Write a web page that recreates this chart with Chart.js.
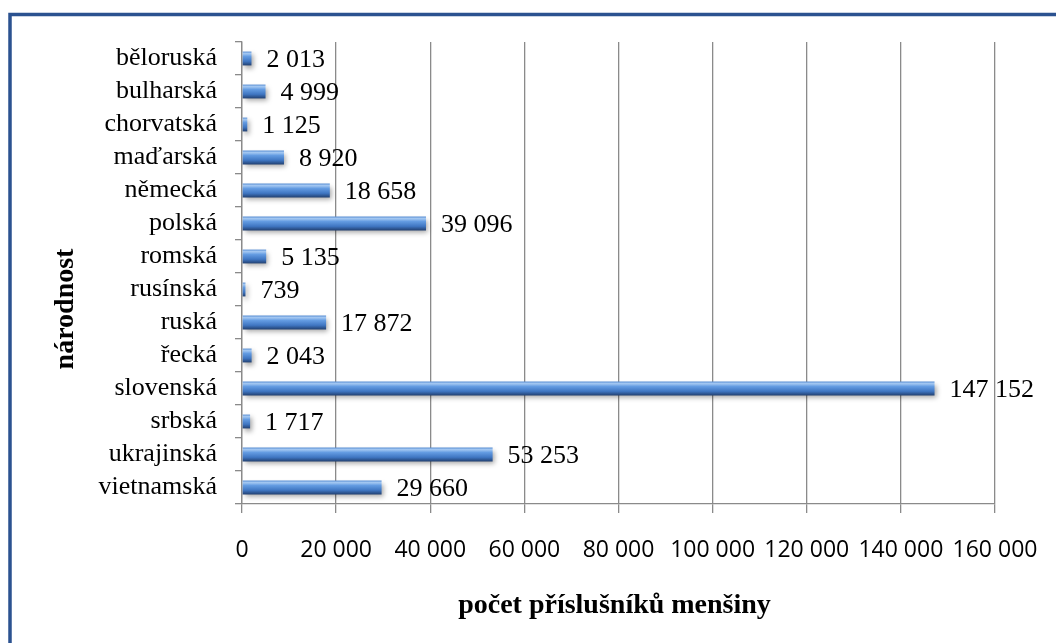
<!DOCTYPE html>
<html lang="cs">
<head>
    <meta charset="UTF-8">
    <title>Národnostní menšiny</title>
    <script src="https://cdn.jsdelivr.net/npm/chart.js@4.4.0/dist/chart.umd.min.js"></script>
    <style>
        body {
            margin: 0;
            background: #ffffff;
        }
        #wrap {
            position: relative;
            width: 1056px;
            height: 643px;
        }
    </style>
</head>
<body>
    <div id="wrap">
        <canvas id="chart" width="1056" height="643"></canvas>
    </div>

    <script>
        const categories = ['běloruská', 'bulharská', 'chorvatská', 'maďarská', 'německá', 'polská', 'romská',
            'rusínská', 'ruská', 'řecká', 'slovenská', 'srbská', 'ukrajinská', 'vietnamská'];
        const members = [2013, 4999, 1125, 8920, 18658, 39096, 5135, 739, 17872, 2043, 147152, 1717, 53253, 29660];
        const xTicks = [0, 20000, 40000, 60000, 80000, 100000, 120000, 140000, 160000];
        const xTitle = 'počet příslušníků menšiny';
        const yTitle = 'národnost';

        const GRID = '#8a8a8a';
        const SERIF = '"Liberation Serif", "Times New Roman", serif';

        function fmt(v) {
            return String(v).replace(/\B(?=(\d{3})+(?!\d))/g, ' ');
        }

        // gradient per bar, follows the bar centre given by the category scale
        function barFill(c) {
            const chart = c.chart;
            const y = chart.scales && chart.scales.y;
            if (!y || c.dataIndex === undefined) return '#4a84cc';
            const cy = y.getPixelForValue(c.dataIndex);
            if (!Number.isFinite(cy)) return '#4a84cc';
            const g = chart.ctx.createLinearGradient(0, cy - 7, 0, cy + 7);
            g.addColorStop(0, '#5a8fd4');
            g.addColorStop(0.15, '#a4c8f2');
            g.addColorStop(0.35, '#649ce2');
            g.addColorStop(0.7, '#3f76c2');
            g.addColorStop(1, '#213f6f');
            return g;
        }

        const decor = {
            id: 'decor',
            beforeDraw(chart) {
                const ctx = chart.ctx;
                ctx.save();
                ctx.strokeStyle = '#2b5290';
                ctx.lineWidth = 3.5;
                ctx.beginPath();
                ctx.moveTo(10, 643);
                ctx.lineTo(10, 14.5);
                ctx.lineTo(1056, 14.5);
                ctx.stroke();
                ctx.restore();
            },
            beforeDatasetsDraw(chart) {
                const ctx = chart.ctx;
                ctx.save();
                ctx.shadowColor = 'rgba(0,0,0,0.35)';
                ctx.shadowBlur = 5;
                ctx.shadowOffsetX = 2;
                ctx.shadowOffsetY = 3;
            },
            afterDatasetsDraw(chart) {
                const ctx = chart.ctx;
                ctx.restore();
                const meta = chart.getDatasetMeta(0);
                ctx.save();
                ctx.fillStyle = '#000';
                ctx.font = '26px ' + SERIF;
                ctx.textAlign = 'left';
                ctx.textBaseline = 'middle';
                meta.data.forEach((bar, i) => {
                    ctx.fillText(fmt(members[i]), bar.x + 15, bar.y + 2);
                });

                // axis titles
                const area = chart.chartArea;
                ctx.font = 'bold 28px ' + SERIF;
                ctx.textAlign = 'center';
                ctx.fillText(xTitle, (area.left + area.right) / 2 - 4, 606);
                ctx.translate(66, 309);
                ctx.rotate(-Math.PI / 2);
                ctx.fillText(yTitle, 0, 0);
                ctx.restore();
            }
        };

        new Chart(document.getElementById('chart'), {
            type: 'bar',
            data: {
                labels: categories,
                datasets: [{
                    label: 'počet',
                    data: members,
                    backgroundColor: barFill,
                    borderWidth: 0,
                    categoryPercentage: 1,
                    barPercentage: 0.42
                }]
            },
            options: {
                indexAxis: 'y',
                responsive: false,
                animation: false,
                layout: {
                    padding: { left: 0, right: 61, top: 42, bottom: 0 }
                },
                plugins: {
                    legend: { display: false },
                    tooltip: { enabled: false }
                },
                scales: {
                    x: {
                        type: 'linear',
                        min: 0,
                        max: 160000,
                        afterBuildTicks(scale) {
                            scale.ticks = xTicks.map(v => ({ value: v }));
                        },
                        afterFit(scale) {
                            scale.height = 643 - 504;
                            scale.paddingLeft = 0;
                            scale.paddingRight = 0;
                        },
                        grid: {
                            color: GRID,
                            lineWidth: 1.3,
                            tickLength: 9
                        },
                        border: { color: GRID, width: 1.3 },
                        ticks: {
                            padding: 24,
                            maxRotation: 0,
                            autoSkip: false,
                            color: '#000',
                            font: { family: '"Open Sans", sans-serif', size: 23 },
                            callback: v => fmt(v)
                        }
                    },
                    y: {
                        afterFit(scale) {
                            scale.width = 242;
                        },
                        grid: {
                            drawOnChartArea: false,
                            color: GRID,
                            lineWidth: 1.3,
                            tickLength: 7
                        },
                        border: { color: GRID, width: 1.3 },
                        ticks: {
                            padding: 18,
                            autoSkip: false,
                            color: '#000',
                            font: { family: SERIF, size: 26 }
                        }
                    }
                }
            },
            plugins: [decor]
        });
    </script>
</body>
</html>
